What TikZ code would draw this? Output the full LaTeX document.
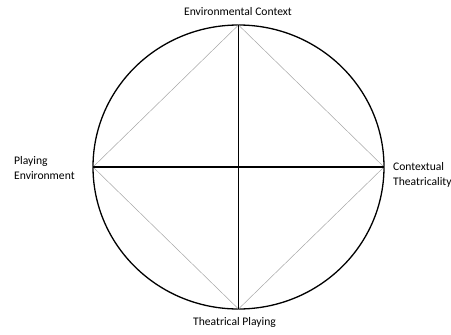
\documentclass[tikz,border=0pt]{standalone}
\usepackage{fontspec}
\setmainfont{Carlito}
\begin{document}
\begin{tikzpicture}[x=1pt,y=-1pt,
  axis/.style={line width=1.4pt,black},
  diag/.style={line width=0.5pt,gray!70},
  lbl/.style={font=\fontsize{11.6}{14.5}\selectfont,inner sep=0pt}]
\useasboundingbox (0,0) rectangle (451,335);
\coordinate (C) at (238.5,167);
\coordinate (T) at (238.5,25);
\coordinate (B) at (238.5,309);
\coordinate (L) at (93,167);
\coordinate (R) at (384,167);
\draw[line width=1.3pt] (C) ellipse [x radius=145.5, y radius=142];
\draw[diag] (T) -- (R) -- (B) -- (L) -- cycle;
\draw[axis] (T) -- (B);
\draw[axis] (L) -- (R);
\node[lbl] (nt) at (238,12) {Environmental Context};
\node[lbl] (nb) at (234.5,322) {Theatrical Playing};
\node[lbl,anchor=west,align=left] (nl) at (14,168) {Playing\\Environment};
\node[lbl,anchor=west,align=left] (nr) at (393,175) {Contextual\\Theatricality};
\end{tikzpicture}
\end{document}
